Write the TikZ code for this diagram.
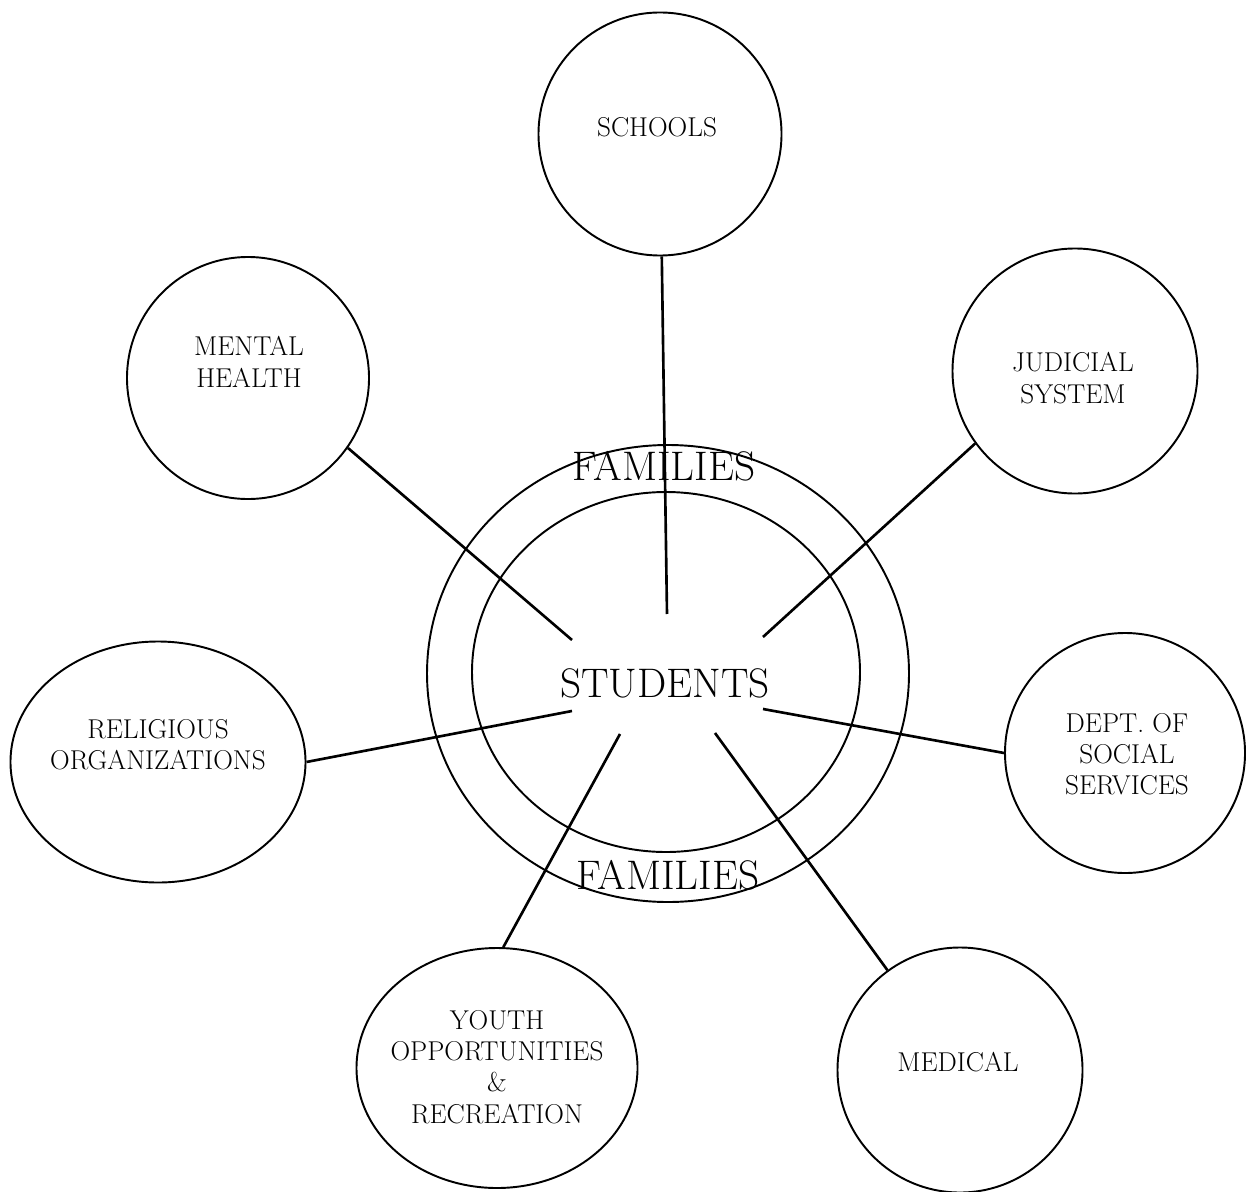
\documentclass[tikz,border=0pt]{standalone}
\RequirePackage{tikz}
\usetikzlibrary{shapes.geometric}

\begin{document}
\begin{tikzpicture}[scale=0.2]
\tikzset{agency/.style={draw=black, circle, line width=1.1pt, inner sep=0pt},
  oval/.style={draw=black, ellipse, line width=1.1pt, inner sep=0pt},
  lbl/.style={align=center, inner sep=0pt, font=\fontsize{15.5}{17.8}\selectfont},
  ring/.style={draw=black, line width=1.1pt},
  link/.style={draw=black, line width=1.5pt}}
\useasboundingbox (0,0) rectangle (124.6,-119.1);
% families rings
\draw [ring] (66.8,-67.35) ellipse [x radius=24.1, y radius=22.85];
\draw [ring] (66.6,-67.2) ellipse [x radius=19.4, y radius=18.0];
\node [inner sep=0pt, font=\fontsize{23.5}{28}\selectfont] (students) at (66.5,-68.3) {STUDENTS};
\node [inner sep=0pt, font=\fontsize{23.5}{28}\selectfont] (famtop) at (66.4,-46.6) {FAMILIES};
\node [inner sep=0pt, font=\fontsize{23.5}{28}\selectfont] (fambot) at (66.8,-87.5) {FAMILIES};
% agencies
\node [agency, minimum size=4.86cm] (schools) at (66.0,-13.4) {};
\node [lbl] (schoolslbl) at (65.7,-12.7) {SCHOOLS};
\node [agency, minimum size=4.84cm] (mental) at (24.8,-37.8) {};
\node [lbl] (mentallbl) at (24.9,-36.2) {MENTAL\\HEALTH};
\node [agency, minimum size=4.9cm] (judicial) at (107.5,-37.1) {};
\node [lbl] (judiciallbl) at (107.3,-37.8) {JUDICIAL\\SYSTEM};
\node [oval, minimum width=5.9cm, minimum height=4.82cm] (religious) at (15.8,-76.2) {};
\node [lbl] (religiouslbl) at (15.8,-74.5) {RELIGIOUS\\ORGANIZATIONS};
\node [agency, minimum size=4.8cm] (dept) at (112.5,-75.3) {};
\node [lbl] (deptlbl) at (112.7,-75.4) {DEPT. OF\\SOCIAL\\SERVICES};
\node [oval, minimum width=5.62cm, minimum height=4.8cm] (youth) at (49.7,-106.8) {};
\node [lbl] (youthlbl) at (49.7,-106.7) {YOUTH\\OPPORTUNITIES\\\&\\RECREATION};
\node [agency, minimum size=4.9cm] (medical) at (96.0,-107.0) {};
\node [lbl] (medicallbl) at (95.8,-106.2) {MEDICAL};
% inner ends of the spokes
\coordinate (cschools) at (66.7,-61.4);
\coordinate (cmental) at (57.2,-64.0);
\coordinate (cjudicial) at (76.3,-63.7);
\coordinate (creligious) at (57.2,-71.1);
\coordinate (cdept) at (76.3,-70.9);
\coordinate (cyouth) at (62.0,-73.4);
\coordinate (cmedical) at (71.5,-73.3);
\draw [link] (schools) -- (cschools);
\draw [link] (mental.-35) -- (cmental);
\draw [link] (judicial.216) -- (cjudicial);
\draw [link] (religious.east) -- (creligious);
\draw [link] (dept.west) -- (cdept);
\draw [link] (youth.87) -- (cyouth);
\draw [link] (medical) -- (cmedical);
\end{tikzpicture}
\end{document}
